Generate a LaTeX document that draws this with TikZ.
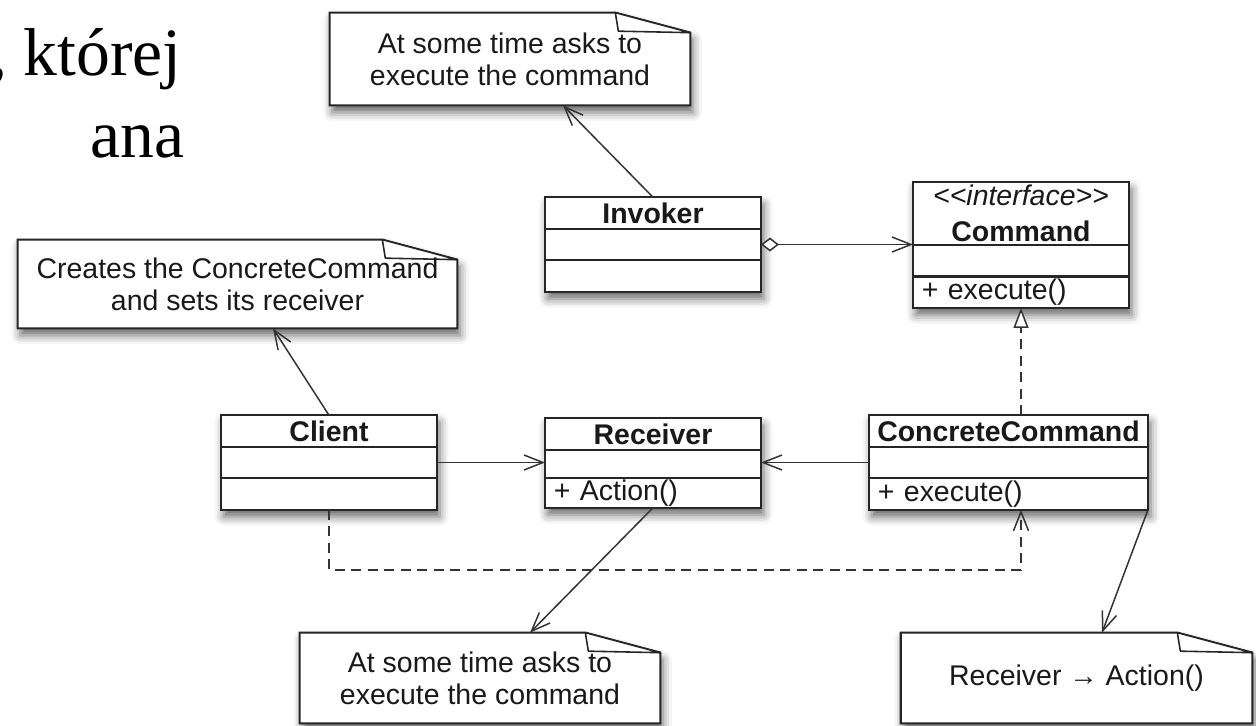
\documentclass[tikz,border=0pt]{standalone}
\usepackage{fontspec}
\setmainfont{Liberation Sans}
\newfontfamily\slidefont{Liberation Serif}
\usetikzlibrary{arrows.meta,positioning,backgrounds,fit,shadows.blur}
\newcommand{\umlfont}{\fontsize{16.2}{18.1}\selectfont}
\tikzset{
  box/.style={draw=black!85,fill=white,line width=1.2pt,outer sep=0pt,
    inner sep=0pt,minimum height=0.63cm},
  ctitle/.style={box,minimum width=#1,font=\umlfont\bfseries,text=black!90},
  crow/.style={box,minimum width=#1},
  cops/.style={box,text width=#1,align=left,font=\umlfont,text=black!90,
    execute at begin node=\hspace*{5pt}},
  note/.style={minimum width=#1,minimum height=1.8cm,inner sep=0pt,
    align=center,font=\umlfont,text=black!90},
  softshadow/.style={blur shadow={shadow xshift=1.5pt,shadow yshift=-4pt,
    shadow blur radius=5pt,shadow opacity=60}},
  notebody/.style={softshadow,draw=black!85,fill=white,line width=1.2pt},
  notefold/.style={draw=black!85,fill=white,line width=0.9pt,line join=round},
  slide/.style={font=\slidefont\fontsize{38.5}{46}\selectfont,inner sep=0pt},
  link/.style={draw=black!80,line width=0.85pt},
  assoc/.style={link,-{Straight Barb[length=3.8mm,width=3mm]}},
  aggr/.style={link,{Diamond[fill=white,length=3.6mm,width=2.8mm]}-%
    {Straight Barb[length=3.8mm,width=3mm]}},
  realize/.style={link,dash pattern=on 2mm off 1.3mm,
    -{Triangle[fill=white,length=4mm,width=3mm]}},
  depend/.style={link,dash pattern=on 2mm off 1.3mm,
    -{Straight Barb[length=3.8mm,width=3mm]}}}

\begin{document}
\begin{tikzpicture}[x=0.02cm,y=-0.02cm]
  \useasboundingbox (0,0) rectangle (1256,725);

  \node[slide,anchor=base east] (txt1) at (182,75) {, której};
  \node[slide,anchor=base east] (txt2) at (185,157) {ana};

  % classes: title, attributes, operations
  \node[ctitle=4.32cm] (inv) at (653,213) {Invoker};
  \node[crow=4.32cm,below=0pt of inv] (inv-a) {};
  \node[crow=4.32cm,below=0pt of inv-a] (inv-o) {};

  \node[ctitle=4.32cm,minimum height=1.26cm,align=center] (cmd)
    at (1021,213.5) {\textit{\mdseries <{}<interface>{}>}\\[2.3pt]Command};
  \node[crow=4.32cm,below=0pt of cmd] (cmd-a) {};
  \node[cops=4.32cm,below=0pt of cmd-a] (cmd-o) {+ execute()};

  \node[ctitle=4.32cm] (cli) at (329,431) {Client};
  \node[crow=4.32cm,below=0pt of cli] (cli-a) {};
  \node[crow=4.32cm,below=0pt of cli-a] (cli-o) {};

  \node[ctitle=4.32cm] (rcv) at (653,434) {Receiver};
  \node[crow=4.32cm,minimum height=0.56cm,below=0pt of rcv] (rcv-a) {};
  \node[cops=4.32cm,minimum height=0.6cm,below=0pt of rcv-a] (rcv-o)
    {+ Action()};

  \node[ctitle=5.58cm] (ccmd) at (1008.5,431) {ConcreteCommand};
  \node[crow=5.58cm,below=0pt of ccmd] (ccmd-a) {};
  \node[cops=5.58cm,below=0pt of ccmd-a] (ccmd-o) {+ execute()};

  % notes
  \node[note=7.2cm,minimum height=1.84cm] (nInv) at (510,59)
    {At some time asks to\\execute the command};
  \node[note=8.78cm,minimum height=1.76cm] (nCli) at (237.5,284)
    {Creates the ConcreteCommand\\and sets its receiver};
  \node[note=7.2cm] (nRcv) at (480,678)
    {At some time asks to\\execute the command};
  \node[note=7.02cm] (nCc) at (1076.5,678) {Receiver → Action()};

  \begin{scope}[on background layer]
    \foreach \c in {inv,cmd,cli,rcv,ccmd}
      \node[softshadow,fill=white,inner sep=0pt,fit=(\c)(\c-o)] (\c-bg) {};
    \foreach \n in {nInv,nCli,nRcv,nCc} {
      \filldraw[notebody] (\n.north west) -- ([xshift=-1.5cm]\n.north east)
        -- ([yshift=-0.4cm]\n.north east) -- (\n.south east)
        -- (\n.south west) -- cycle;
      \filldraw[notefold] ([xshift=-1.5cm]\n.north east)
        -- ([xshift=-1.44cm,yshift=-0.37cm]\n.north east)
        -- ([yshift=-0.4cm]\n.north east) -- cycle;
    }
  \end{scope}

  % relations
  \draw[aggr] (inv-a.east) -- (inv-a.east -| cmd.west);
  \draw[realize] (ccmd.north -| cmd-o.south) -- (cmd-o.south);
  \draw[assoc] (cli-a.east) -- (cli-a.east -| rcv-a.west);
  \draw[assoc] (ccmd-a.west) -- (ccmd-a.west -| rcv-a.east);
  \coordinate (dep) at (0,570);
  \draw[depend] (cli-o.south) |- (dep -| cmd-o.south)
    -- (ccmd-o.south -| cmd-o.south);

  % note links
  \draw[assoc] (inv.north) -- (nInv.south -| 563,0);
  \draw[assoc] (cli.north) -- (nCli.south -| 273,0);
  \draw[assoc] (rcv-o.south) -- (nRcv.north -| 530,0);
  \draw[assoc] (ccmd-o.south east) -- (nCc.north -| 1102,0);
\end{tikzpicture}
\end{document}
